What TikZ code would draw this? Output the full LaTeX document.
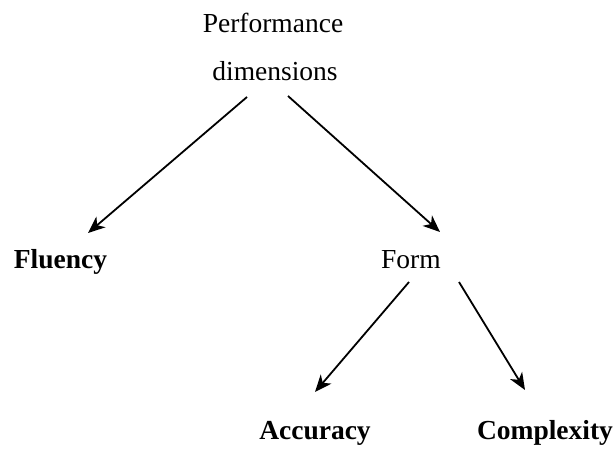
\documentclass[tikz,border=0pt]{standalone}
\usepackage{fontspec}
\setmainfont{Liberation Serif}
\usetikzlibrary{arrows.meta,calc}
\begin{document}
\begin{tikzpicture}[x=1pt,y=1pt,
  lbl/.style={anchor=base,inner sep=0pt,outer sep=0pt,font=\fontsize{27.5}{32}\selectfont},
  blbl/.style={lbl,font=\fontsize{27.5}{32}\selectfont\bfseries},
  arr/.style={line width=1.8pt,-{Stealth[length=17pt,width=14pt,inset=5pt]}}]
  \useasboundingbox (0,0) rectangle (616,456);
  % labels
  \node[lbl]  (perf) at (273,423) {Performance};
  \node[lbl]  (dim)  at (275,375) {dimensions};
  \node[blbl] (flu)  at (60.5,188) {Fluency};
  \node[lbl]  (form) at (411,188) {Form};
  \node[blbl] (acc)  at (315,17) {Accuracy};
  \node[blbl] (comp) at (545,17) {Complexity};
  % arrows
  \draw[arr] ($(dim.base)+(-28,-16)$) -- ($(flu.base)+(27.5,35)$);
  \draw[arr] ($(dim.base)+(13,-15)$)  -- ($(form.base)+(29,36)$);
  \draw[arr] ($(form.base)+(-2,-14)$) -- ($(acc.base)+(0,47)$);
  \draw[arr] ($(form.base)+(48,-14)$) -- ($(comp.base)+(-20,49)$);
\end{tikzpicture}
\end{document}
